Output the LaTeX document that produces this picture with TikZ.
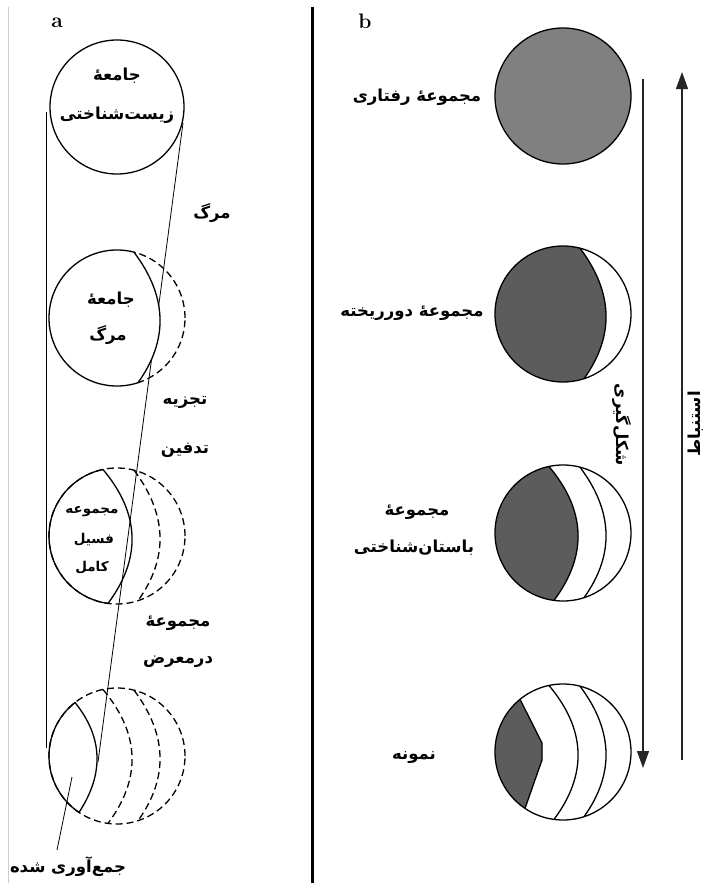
\documentclass[tikz,border=0pt]{standalone}
\usepackage{fontspec}
\newfontfamily\fa[Script=Arabic]{DejaVu Sans}
\TeXXeTstate=1
\usetikzlibrary{arrows.meta}
\definecolor{gmid}{gray}{0.5}
\definecolor{gdark}{gray}{0.36}
\tikzset{
  lbl/.style={font=\fa\bfseries\fontsize{16.5}{18}\selectfont, inner sep=0pt},
  lblsm/.style={font=\fa\bfseries\fontsize{13.5}{15}\selectfont, inner sep=0pt},
  ringline/.style={line width=1.3pt},
  dashline/.style={line width=1.3pt, dash pattern=on 7pt off 4pt},
  leader/.style={line width=0.8pt},
  arrowline/.style={line width=1.1pt, draw=black!85},
  panellbl/.style={font=\bfseries\fontsize{21}{21}\selectfont, inner sep=0pt}
}
\begin{document}
\begin{tikzpicture}[x=1pt,y=-1pt]
\useasboundingbox (0,0) rectangle (706,883);
\fill[white] (0,0) rectangle (706,883);
% frame lines
\draw[gray!40, line width=0.8pt] (8,7) -- (8,883);
\draw[line width=3pt] (312,7) -- (312,883);
\node[panellbl] (la) at (57,23) {a};
\node[panellbl] (lb) at (365,21) {b};

% ---------- panel a ----------
\coordinate (vt) at (46,112);
\coordinate (vb) at (46,748);
\draw[leader] (vt) -- (vb);
\coordinate (slt) at (183,123);
\coordinate (slb) at (98,762);
\draw[leader] (slt) -- (slb);

% circle a1
\draw[ringline] (117,107) circle[radius=67pt];
\node[lbl] (a1t1) at (117,76) {\beginR جامعهٔ\endR};
\node[lbl] (a1t2) at (117,115) {\beginR زیست‌شناختی\endR};

\node[lbl] (marg) at (212,213) {\beginR مرگ\endR};

% circle a2
\begin{scope}[shift={(117,318)}]
  \draw[dashline] (0,0) circle[radius=68pt];
  \begin{scope}
    \clip (17,-65.8) .. controls (50.3,-21.6) and (51.7,21.9) .. (21,64.7) -- (21,90) -- (-90,90) -- (-90,-90) -- (17,-90) -- cycle;
    \fill[white] (0,0) circle[radius=69pt];
    \draw[ringline] (0,0) circle[radius=68pt];
  \end{scope}
  \draw[ringline] (17,-65.8) .. controls (50.3,-21.6) and (51.7,21.9) .. (21,64.7);
\end{scope}
\node[lbl] (a2t1) at (111,300) {\beginR جامعهٔ\endR};
\node[lbl] (a2t2) at (108,335) {\beginR مرگ\endR};

\node[lbl] (tajz) at (185,402) {\beginR تجزیه\endR};
\node[lbl] (tadf) at (185,450) {\beginR تدفین\endR};

% circle a3
\begin{scope}[shift={(117,536)}]
  \draw[dashline] (0,0) circle[radius=68pt];
  \draw[dashline] (17,-65.8) .. controls (50.3,-21.6) and (51.7,21.9) .. (21,64.7);
  \begin{scope}
    \clip (-14,-66.5) .. controls (23,-22.5) and (24.7,22.2) .. (-9,67.4) -- (-9,90) -- (-90,90) -- (-90,-90) -- (-14,-90) -- cycle;
    \draw[ringline] (0,0) circle[radius=68pt];
  \end{scope}
  \draw[ringline] (-14,-66.5) .. controls (23,-22.5) and (24.7,22.2) .. (-9,67.4);
\end{scope}
\node[lblsm] (a3t1) at (92,512) {\beginR مجموعه\endR};
\node[lblsm] (a3t2) at (94,540) {\beginR فسیل\endR};
\node[lblsm] (a3t3) at (92,568) {\beginR کامل\endR};

\node[lbl] (dm1) at (178,623) {\beginR مجموعهٔ\endR};
\node[lbl] (dm2) at (178,662) {\beginR درمعرض\endR};

% circle a4
\begin{scope}[shift={(117,756)}]
  \draw[dashline] (0,0) circle[radius=68pt];
  \draw[dashline] (17,-65.8) .. controls (50.3,-21.6) and (51.7,21.9) .. (21,64.7);
  \draw[dashline] (-14,-66.5) .. controls (23,-22.5) and (24.7,22.2) .. (-9,67.4);
  \begin{scope}
    \clip (-42,-53.5) .. controls (-14,-18.8) and (-12.7,17.8) .. (-38,56.4) -- (-38,90) -- (-90,90) -- (-90,-90) -- (-42,-90) -- cycle;
    \draw[ringline] (0,0) circle[radius=68pt];
  \end{scope}
  \draw[ringline] (-42,-53.5) .. controls (-14,-18.8) and (-12.7,17.8) .. (-38,56.4);
\end{scope}
\coordinate (lt) at (72,777);
\node[lbl] (jam) at (68,867) {\beginR جمع‌آوری شده\endR};
\coordinate (lb2) at (57,850);
\draw[leader] (lt) -- (lb2);

% ---------- panel b ----------
\draw[ringline, fill=gmid] (563,96) circle[radius=68pt];
\node[lbl] (b1t) at (417,97) {\beginR مجموعهٔ رفتاری\endR};

% b2
\begin{scope}[shift={(563,314)}]
  \begin{scope}
    \clip (0,0) circle[radius=68pt];
    \fill[gdark] (17,-65.8) .. controls (50.3,-21.6) and (51.7,21.9) .. (21,64.7) -- (21,90) -- (-90,90) -- (-90,-90) -- (17,-90) -- cycle;
  \end{scope}
  \draw[ringline] (17,-65.8) .. controls (50.3,-21.6) and (51.7,21.9) .. (21,64.7);
  \draw[ringline] (0,0) circle[radius=68pt];
\end{scope}
\node[lbl] (b2t) at (412,313) {\beginR مجموعهٔ دورریخته\endR};

% b3
\begin{scope}[shift={(563,533)}]
  \begin{scope}
    \clip (0,0) circle[radius=68pt];
    \fill[gdark] (-14,-66.5) .. controls (23,-22.5) and (24.7,22.2) .. (-9,67.4) -- (-9,90) -- (-90,90) -- (-90,-90) -- (-14,-90) -- cycle;
  \end{scope}
  \draw[ringline] (-14,-66.5) .. controls (23,-22.5) and (24.7,22.2) .. (-9,67.4);
  \draw[ringline] (17,-65.8) .. controls (50.3,-21.6) and (51.7,21.9) .. (21,64.7);
  \draw[ringline] (0,0) circle[radius=68pt];
\end{scope}
\node[lbl] (b3t1) at (417,512) {\beginR مجموعهٔ\endR};
\node[lbl] (b3t2) at (414,548) {\beginR باستان‌شناختی\endR};

% b4
\begin{scope}[shift={(563,752)}]
  \begin{scope}
    \clip (0,0) circle[radius=68pt];
    \fill[gdark] (-43,-52.7) -- (-21,-9) -- (-21,8) -- (-38,56.4) -- (-38,90) -- (-90,90) -- (-90,-90) -- (-43,-90) -- cycle;
  \end{scope}
  \draw[ringline] (-43,-52.7) -- (-21,-9) -- (-21,8) -- (-38,56.4);
  \draw[ringline] (-14,-66.5) .. controls (23,-22.5) and (24.7,22.2) .. (-9,67.4);
  \draw[ringline] (17,-65.8) .. controls (50.3,-21.6) and (51.7,21.9) .. (21,64.7);
  \draw[ringline] (0,0) circle[radius=68pt];
\end{scope}
\node[lbl] (b4t) at (414,758) {\beginR نمونه\endR};

% arrows
\coordinate (dtop) at (643,79);
\coordinate (dbot) at (643,768);
\draw[arrowline, -{Triangle[length=17pt,width=12pt]}] (dtop) -- (dbot);
\coordinate (ubot) at (682,760);
\coordinate (utop) at (682,72);
\draw[arrowline, -{Triangle[length=17pt,width=12pt]}] (ubot) -- (utop);
\node[lbl, rotate=-90] (shk) at (622,425) {\beginR شکل‌گیری\endR};
\node[lbl, rotate=90] (ests) at (696,424) {\beginR استنباط\endR};
\end{tikzpicture}
\end{document}
